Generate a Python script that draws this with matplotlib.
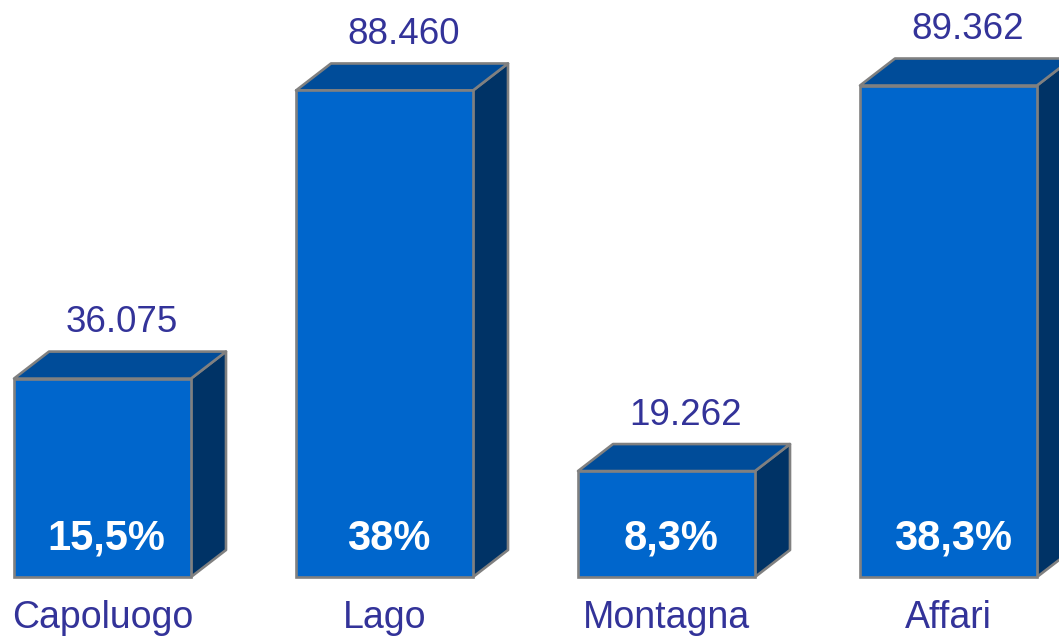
import matplotlib.pyplot as plt
from matplotlib.patches import Polygon

categories = ["Capoluogo", "Lago", "Montagna", "Affari"]
values = [36075, 88460, 19262, 89362]
value_labels = ["36.075", "88.460", "19.262", "89.362"]
pct_labels = ["15,5%", "38%", "8,3%", "38,3%"]

plt.rcParams['font.family'] = ['Liberation Sans', 'DejaVu Sans']

front_col = "#0066CC"
top_col = "#004C99"
side_col = "#003366"
edge_col = "#808080"
text_col = "#333399"

fig = plt.figure(figsize=(10.59, 6.37), dpi=100)
ax = fig.add_axes([0, 0, 1, 1])

# pixel layout -> data limits
x0, step = 102.5, 282.0
ppu = 0.0055  # pixels per unit of value
base_px = 577
ax.set_xlim(-x0 / step, (1059 - x0) / step)
ax.set_ylim(-(637 - base_px) / ppu, base_px / ppu)
ax.axis("off")

width = 177 / step
dx = 35 / step
dy = 27 / ppu

for i, v in enumerate(values):
    l, r = i - width / 2, i + width / 2
    side = Polygon([(r, 0), (r + dx, dy), (r + dx, v + dy), (r, v)],
                   facecolor=side_col, edgecolor=edge_col, lw=1.9, joinstyle="round")
    top = Polygon([(l, v), (l + dx, v + dy), (r + dx, v + dy), (r, v)],
                  facecolor=top_col, edgecolor=edge_col, lw=1.9, joinstyle="round")
    ax.add_patch(side)
    ax.add_patch(top)

ax.bar(range(len(values)), values, width=width, color=front_col,
       edgecolor=edge_col, linewidth=1.9, zorder=3)

for i, v in enumerate(values):
    ax.annotate(value_labels[i], (i, v + dy), xytext=(14, 14), textcoords="offset points",
                ha="center", va="baseline", fontsize=26.5, color=text_col)
    ax.annotate(pct_labels[i], (i, 0), xytext=(3, 19.5), textcoords="offset points",
                ha="center", va="baseline", fontsize=30, color="white",
                fontweight="bold", zorder=5)
    ax.annotate(categories[i], (i, 0), xytext=(0, -37), textcoords="offset points",
                ha="center", va="baseline", fontsize=27, color=text_col)

fig.savefig("out.png", dpi=100)
